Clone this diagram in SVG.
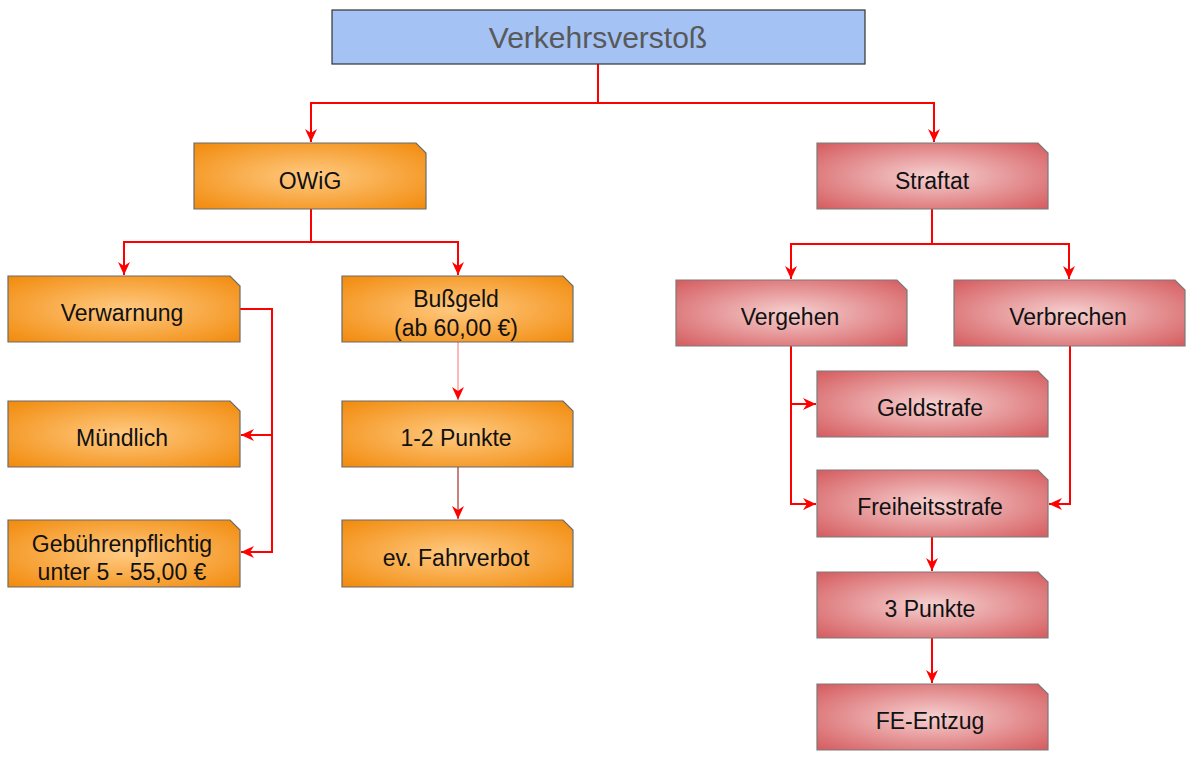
<svg xmlns="http://www.w3.org/2000/svg" width="1196" height="761" viewBox="0 0 1196 761">
<defs>
<radialGradient id="gOr" cx="0.5" cy="0.5" r="0.68">
<stop offset="0" stop-color="#ffca82"/>
<stop offset="1" stop-color="#f28c0f"/>
</radialGradient>
<radialGradient id="gRd" cx="0.5" cy="0.5" r="0.68">
<stop offset="0" stop-color="#f6d0d0"/>
<stop offset="1" stop-color="#d65f62"/>
</radialGradient>
<marker id="ar" markerUnits="userSpaceOnUse" markerWidth="14" markerHeight="12" refX="13" refY="6" orient="auto">
<path d="M0,0 L13,6 L0,12 L4,6 Z" fill="#ff0000"/>
</marker>
</defs>
<style>
.or{fill:url(#gOr);stroke:#6b6b6b;stroke-width:1.2}
.rd{fill:url(#gRd);stroke:#7a7a7a;stroke-width:1.2}
.t{font-family:"Liberation Sans",Arial,sans-serif;font-size:23px;fill:#111;text-anchor:middle}
.c{fill:none;stroke:#ff0000;stroke-width:2}
.thin{fill:none;stroke-width:1}
</style>
<rect width="1196" height="761" fill="#ffffff"/>
<g id="connectors">
<path class="c" d="M598,64 V103 H311 V142" marker-end="url(#ar)"/>
<path class="c" d="M598,103 H934 V142" marker-end="url(#ar)"/>
<path class="c" d="M311,209 V242 H124 V275" marker-end="url(#ar)"/>
<path class="c" d="M311,242 H458 V275" marker-end="url(#ar)"/>
<path class="c" d="M240,309 H272 V552 H241" marker-end="url(#ar)"/>
<path class="c" d="M272,435 H241" marker-end="url(#ar)"/>
<path class="thin" stroke="#ff7070" d="M458,342 V400" marker-end="url(#ar)"/>
<path class="thin" stroke="#990000" d="M458,467 V519" marker-end="url(#ar)"/>
<path class="c" d="M932,209 V244 H791 V279" marker-end="url(#ar)"/>
<path class="c" d="M932,244 H1069 V279" marker-end="url(#ar)"/>
<path class="c" d="M791,346 V504 H816" marker-end="url(#ar)"/>
<path class="c" d="M791,404 H816" marker-end="url(#ar)"/>
<path class="c" d="M1070,346 V504 H1049" marker-end="url(#ar)"/>
<path class="c" d="M932,537 V571" marker-end="url(#ar)"/>
<path class="c" d="M932,638 V683" marker-end="url(#ar)"/>
</g>
<g id="n-verkehrsverstoss">
<rect x="332" y="10" width="533" height="54" fill="#a4c2f4" stroke="#333" stroke-width="1.2"/>
<text x="598" y="48" font-family="Liberation Sans,Arial,sans-serif" font-size="30" fill="#595959" text-anchor="middle">Verkehrsverstoß</text>
</g>
<g id="n-owig">
<path class="or" d="M194,143 H416 L426,153 V209 H194 Z"/>
<text class="t" x="310" y="189">OWiG</text>
</g>
<g id="n-straftat">
<path class="rd" d="M817,143 H1038 L1048,153 V209 H817 Z"/>
<text class="t" x="932" y="189">Straftat</text>
</g>
<g id="n-verwarnung">
<path class="or" d="M8,276 H230 L240,286 V342 H8 Z"/>
<text class="t" x="122" y="321">Verwarnung</text>
</g>
<g id="n-bussgeld">
<path class="or" d="M342,276 H563 L573,286 V342 H342 Z"/>
<text class="t" x="456" y="307">Bußgeld</text>
<text class="t" x="456" y="336">(ab 60,00 €)</text>
</g>
<g id="n-muendlich">
<path class="or" d="M8,401 H230 L240,411 V467 H8 Z"/>
<text class="t" x="122" y="446">Mündlich</text>
</g>
<g id="n-gebuehrenpflichtig">
<path class="or" d="M8,520 H230 L240,530 V587 H8 Z"/>
<text class="t" x="122" y="552">Gebührenpflichtig</text>
<text class="t" x="122" y="580">unter 5 - 55,00 €</text>
</g>
<g id="n-punkte12">
<path class="or" d="M342,401 H563 L573,411 V467 H342 Z"/>
<text class="t" x="456" y="446">1-2 Punkte</text>
</g>
<g id="n-fahrverbot">
<path class="or" d="M342,520 H563 L573,530 V587 H342 Z"/>
<text class="t" x="456" y="566">ev. Fahrverbot</text>
</g>
<g id="n-vergehen">
<path class="rd" d="M676,280 H897 L907,290 V346 H676 Z"/>
<text class="t" x="790" y="325">Vergehen</text>
</g>
<g id="n-verbrechen">
<path class="rd" d="M954,280 H1175 L1185,290 V346 H954 Z"/>
<text class="t" x="1068" y="325">Verbrechen</text>
</g>
<g id="n-geldstrafe">
<path class="rd" d="M817,371 H1038 L1048,381 V437 H817 Z"/>
<text class="t" x="930" y="416">Geldstrafe</text>
</g>
<g id="n-freiheitsstrafe">
<path class="rd" d="M817,470 H1038 L1048,480 V537 H817 Z"/>
<text class="t" x="930" y="515">Freiheitsstrafe</text>
</g>
<g id="n-punkte3">
<path class="rd" d="M817,572 H1038 L1048,582 V638 H817 Z"/>
<text class="t" x="930" y="617">3 Punkte</text>
</g>
<g id="n-fe-entzug">
<path class="rd" d="M817,684 H1038 L1048,694 V750 H817 Z"/>
<text class="t" x="930" y="729">FE-Entzug</text>
</g>
</svg>
